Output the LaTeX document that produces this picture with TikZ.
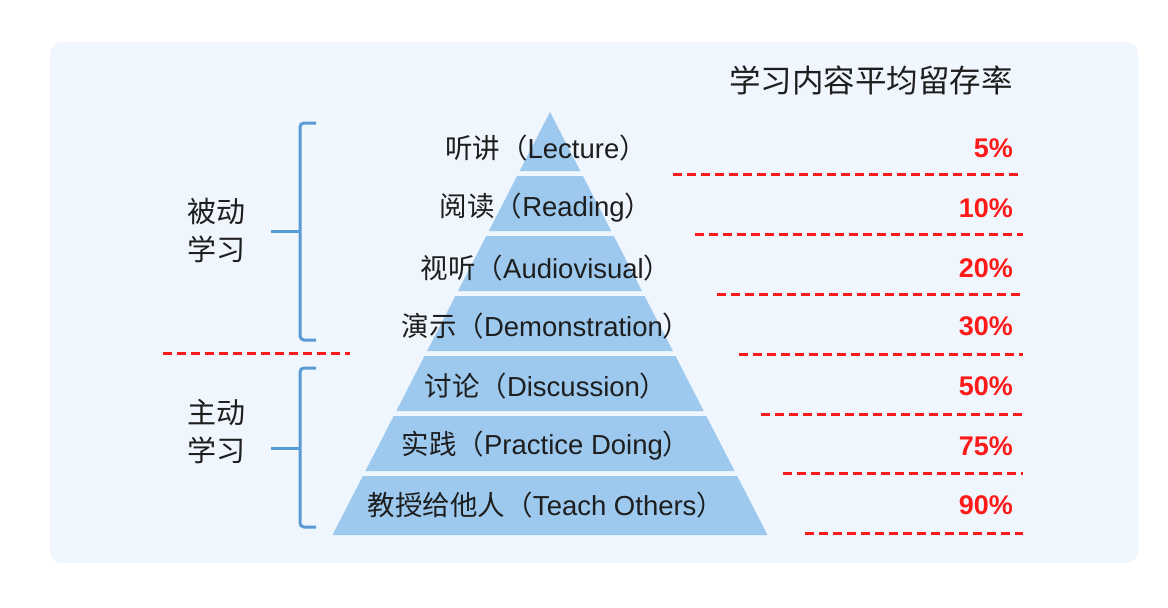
\documentclass[tikz,border=0pt]{standalone}
\usepackage{fontspec}
\setmainfont{Liberation Sans}
\newfontfamily\cjk{Noto Sans CJK SC}
\usetikzlibrary{positioning}
\definecolor{panelbg}{HTML}{F0F6FD}
\definecolor{layerblue}{HTML}{9DC9EE}
\definecolor{bracblue}{HTML}{5B9BD5}
\definecolor{pctred}{HTML}{FF1A1A}
\definecolor{inkgray}{HTML}{1E1E1E}

\begin{document}
\begin{tikzpicture}[x=1pt, y=-1pt,
  layer/.style={fill=layerblue},
  lbl/.style={inner sep=0pt, text=inkgray, font=\fontsize{27.5}{30}\selectfont},
  pct/.style={inner sep=0pt, anchor=east, text=pctred,
              font=\fontsize{27}{30}\selectfont\bfseries},
  side/.style={inner sep=0pt, align=center, text=inkgray,
               font=\cjk\fontsize{29}{38}\selectfont},
  bracket/.style={draw=bracblue, line width=3pt, rounded corners=4pt},
  cut/.style={draw=pctred, line width=3pt, dash pattern=on 9pt off 5pt},
]
\useasboundingbox (0,0) rectangle (1168,608);

% Panel
\fill[panelbg, rounded corners=12pt] (50,42) rectangle (1138,563);

% Title
\node[inner sep=0pt, text=inkgray, font=\cjk\fontsize{31.5}{34}\selectfont]
  (title) at (871,80) {学习内容平均留存率};

% Pyramid layers (top to bottom)
\fill[layer] (550,112) -- (580.3,171) -- (519.7,171) -- cycle;
\fill[layer] (517.1,176) -- (582.9,176) -- (611.2,231) -- (488.8,231) -- cycle;
\fill[layer] (486.2,236) -- (613.8,236) -- (642.0,291) -- (458.0,291) -- cycle;
\fill[layer] (455.4,296) -- (644.6,296) -- (672.9,351) -- (427.1,351) -- cycle;
\fill[layer] (424.5,356) -- (675.5,356) -- (703.7,411) -- (396.3,411) -- cycle;
\fill[layer] (393.7,416) -- (706.3,416) -- (734.6,471) -- (365.4,471) -- cycle;
\fill[layer] (362.8,476) -- (737.2,476) -- (767.5,535) -- (332.5,535) -- cycle;

% Layer labels
\node[lbl] (lecture) at (546,148) {{\cjk 听讲（}Lecture{\cjk ）}};
\node[lbl] (reading) at (546,208) {{\cjk 阅读（}Reading{\cjk ）}};
\node[lbl] (audio) at (546,268) {{\cjk 视听（}Audiovisual{\cjk ）}};
\node[lbl] (demo) at (546,326) {{\cjk 演示（}Demonstration{\cjk ）}};
\node[lbl] (discuss) at (546,386) {{\cjk 讨论（}Discussion{\cjk ）}};
\node[lbl] (practice) at (546,446) {{\cjk 实践（}Practice Doing{\cjk ）}};
\node[lbl] (teach) at (546,505) {{\cjk 教授给他人（}Teach Others{\cjk ）}};

% Retention rates
\node[pct] (r5) at (1013,148) {5\%};
\node[pct] (r10) at (1013,208) {10\%};
\node[pct] (r20) at (1013,268) {20\%};
\node[pct] (r30) at (1013,326) {30\%};
\node[pct] (r50) at (1013,386) {50\%};
\node[pct] (r75) at (1013,446) {75\%};
\node[pct] (r90) at (1013,505) {90\%};

% Red dashed separators
\draw[cut] (673,174) -- (1023,174);
\draw[cut] (695,234) -- (1023,234);
\draw[cut] (717,294) -- (1023,294);
\draw[cut] (739,354) -- (1023,354);
\draw[cut] (761,414) -- (1023,414);
\draw[cut] (783,473) -- (1023,473);
\draw[cut] (805,533) -- (1023,533);
\draw[cut] (163,353) -- (350,353);

% Brackets
\draw[bracket] (316,123) -- (300,123) -- (300,340) -- (316,340);
\draw[bracket, rounded corners=0pt] (300,231) -- (271,231);
\draw[bracket] (316,368) -- (300,368) -- (300,527) -- (316,527);
\draw[bracket, rounded corners=0pt] (300,448) -- (271,448);

% Group labels
\node[side] (passive) at (216,230) {被动\\学习};
\node[side] (active) at (216,432) {主动\\学习};

\end{tikzpicture}
\end{document}
